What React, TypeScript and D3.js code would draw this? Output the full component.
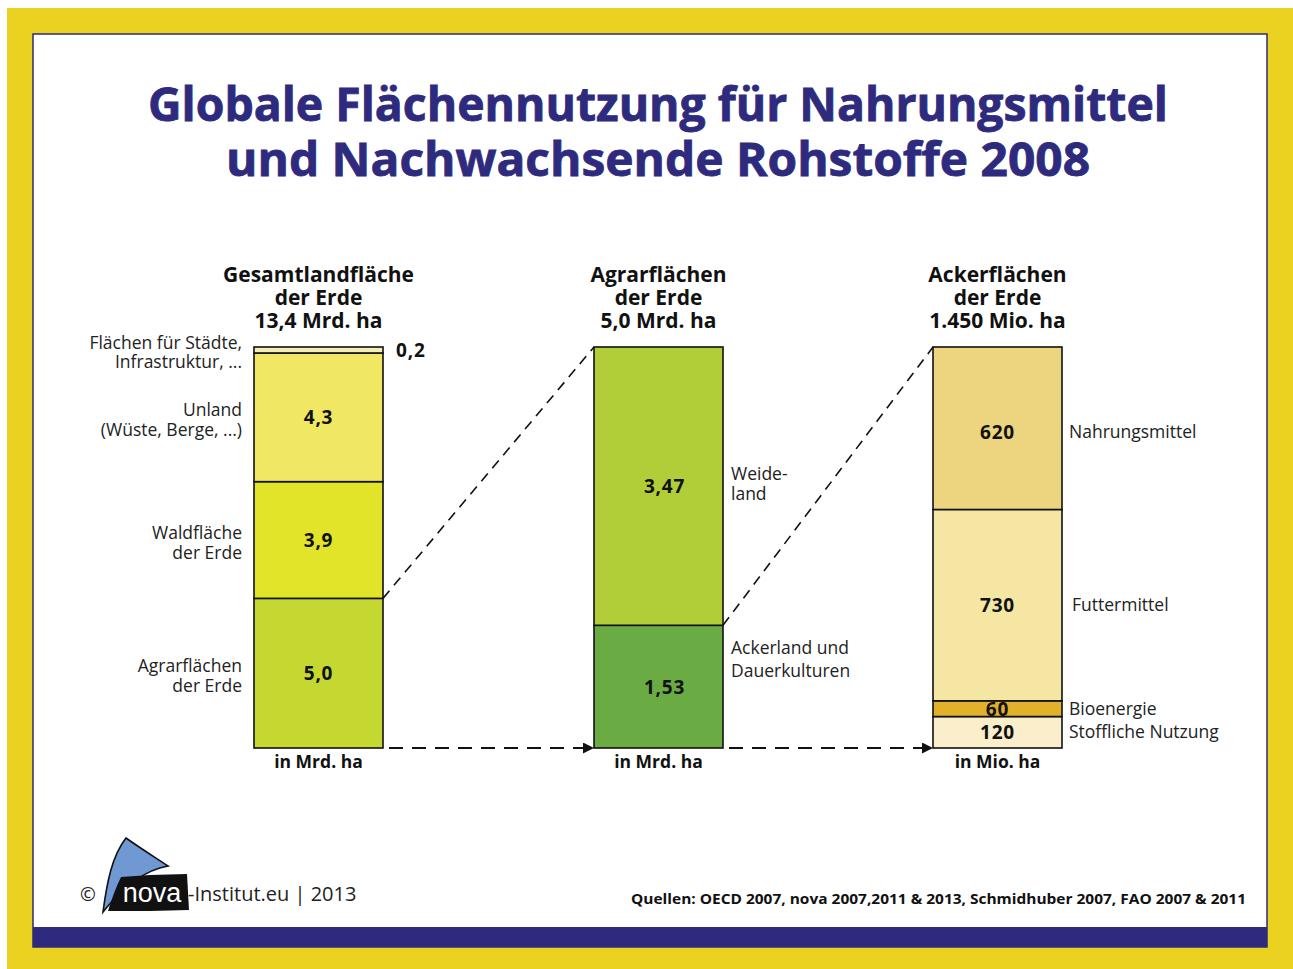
import React from "react";
import * as d3 from "d3";

const TITLE_LINES = ["Globale Flächennutzung für Nahrungsmittel", "und Nachwachsende Rohstoffe 2008"];

// Bar 1: Gesamtlandfläche (bottom -> top)
const land_labels = [["Agrarflächen", "der Erde"], ["Waldfläche", "der Erde"], ["Unland", "(Wüste, Berge, ...)"], ["Flächen für Städte,", "Infrastruktur, ..."]];
const land_values = [5.0, 3.9, 4.3, 0.2];
const land_valueText = ["5,0", "3,9", "4,3", "0,2"];
const land_colors = ["#c5d831", "#e1e428", "#f0e762", "#f4efb4"];

// Bar 2: Agrarflächen
const agrar_labels = [["Ackerland und", "Dauerkulturen"], ["Weide-", "land"]];
const agrar_values = [1.53, 3.47];
const agrar_valueText = ["1,53", "3,47"];
const agrar_colors = ["#6aab43", "#b1cd38"];

// Bar 3: Ackerflächen
const acker_labels = [["Stoffliche Nutzung"], ["Bioenergie"], ["Futtermittel"], ["Nahrungsmittel"]];
const acker_values = [120, 60, 730, 620];
const acker_valueText = ["120", "60", "730", "620"];
const acker_colors = ["#faefca", "#e2b12b", "#f5e6a3", "#edd580"];

const headers = [
  ["Gesamtlandfläche", "der Erde", "13,4 Mrd. ha"],
  ["Agrarflächen", "der Erde", "5,0 Mrd. ha"],
  ["Ackerflächen", "der Erde", "1.450 Mio. ha"],
];
const units = ["in Mrd. ha", "in Mrd. ha", "in Mio. ha"];
const SOURCES = "Quellen: OECD 2007, nova 2007,2011 & 2013, Schmidhuber 2007, FAO 2007 & 2011";

const NAVY = "#2e2a7e";
const YELLOW = "#ecd220";
const FONT = "'Open Sans', 'DejaVu Sans', sans-serif";

type Seg = { y0: number; y1: number; color: string; value: string; label: string[] };

function makeSegs(values: number[], colors: string[], texts: string[], labels: string[][], top: number, bottom: number): Seg[] {
  const total = d3.sum(values);
  const y = d3.scaleLinear().domain([0, total]).range([bottom, top]);
  const cum = Array.from(d3.cumsum(values));
  return values.map((v, i) => ({
    y0: y(cum[i] - v),
    y1: y(cum[i]),
    color: colors[i],
    value: texts[i],
    label: labels[i],
  }));
}

export default function App() {
  const W = 1293, H = 969;
  const top = 347, bottom = 748;
  const xBand = d3.scaleOrdinal<number, number>().domain([0, 1, 2]).range([254, 594, 933]);
  const bw = 129;

  const bars = [
    makeSegs(land_values, land_colors, land_valueText, land_labels, top, bottom),
    makeSegs(agrar_values, agrar_colors, agrar_valueText, agrar_labels, top, bottom),
    makeSegs(acker_values, acker_colors, acker_valueText, acker_labels, top, bottom),
  ];

  const x0 = xBand(0), x1 = xBand(1), x2 = xBand(2);
  const agrTop = bars[0][0].y1;
  const ackTop = bars[1][0].y1;
  const valStyle = { fontSize: 19, fontWeight: 700, fill: "#111", letterSpacing: 0.8 } as const;
  const lblSize = 17.5;

  return (
    <svg width={W} height={H} style={{ position: "absolute", left: 0, top: 0, background: "#fff" }} fontFamily={FONT}>
      <defs>
        <marker id="arr" viewBox="0 0 10 10" refX="10" refY="5" markerWidth="11" markerHeight="11" markerUnits="userSpaceOnUse" orient="auto">
          <path d="M0,0 L10,5 L0,10 z" fill="#111" />
        </marker>
      </defs>
      {/* frame */}
      <rect x={7} y={8} width={W - 7} height={H - 8} fill={YELLOW} />
      <rect x={33} y={34} width={1234} height={913} fill="#fff" stroke={NAVY} strokeWidth={1.5} />
      <rect x={33} y={927} width={1234} height={20} fill={NAVY} />

      {/* title */}
      <text x={658} y={121} textAnchor="middle" fontSize={47} fontWeight={700} fill={NAVY} stroke={NAVY} strokeWidth={0.8} textLength={1020} lengthAdjust="spacingAndGlyphs">{TITLE_LINES[0]}</text>
      <text x={658} y={176} textAnchor="middle" fontSize={47} fontWeight={700} fill={NAVY} stroke={NAVY} strokeWidth={0.8} textLength={864} lengthAdjust="spacingAndGlyphs">{TITLE_LINES[1]}</text>

      {/* headers */}
      {headers.map((h, i) => (
        <g key={"h" + i}>
          {h.map((t, j) => (
            <text key={j} x={xBand(i) + bw / 2} y={282 + j * 23} textAnchor="middle" fontSize={21} fontWeight={700} fill="#111">{t}</text>
          ))}
          <text x={xBand(i) + bw / 2} y={768} textAnchor="middle" fontSize={17.5} fontWeight={700} fill="#111">{units[i]}</text>
        </g>
      ))}

      {/* dashed connectors */}
      <line x1={x0 + bw} y1={agrTop} x2={x1} y2={top} stroke="#111" strokeWidth={1.6} strokeDasharray="10,7" />
      <line x1={x1 + bw} y1={ackTop} x2={x2} y2={top} stroke="#111" strokeWidth={1.6} strokeDasharray="10,7" />
      <line x1={x0 + bw + 6} y1={bottom} x2={x1} y2={bottom} stroke="#111" strokeWidth={1.8} strokeDasharray="14,9" markerEnd="url(#arr)" />
      <line x1={x1 + bw + 6} y1={bottom} x2={x2} y2={bottom} stroke="#111" strokeWidth={1.8} strokeDasharray="14,9" markerEnd="url(#arr)" />

      {/* bars */}
      {bars.map((segs, bi) => (
        <g key={"b" + bi}>
          {segs.map((s, si) => (
            <rect key={si} x={xBand(bi)} y={s.y1} width={bw} height={s.y0 - s.y1} fill={s.color} stroke="#111" strokeWidth={1.6} />
          ))}
        </g>
      ))}

      {/* bar 1 labels */}
      {bars[0].map((s, si) => {
        const c = (s.y0 + s.y1) / 2;
        const isSmall = si === 3;
        return (
          <g key={"l1" + si}>
            {isSmall ? (
              <text x={396} y={c + 7} {...valStyle}>{s.value}</text>
            ) : (
              <text x={x0 + bw / 2} y={c + 7} textAnchor="middle" {...valStyle}>{s.value}</text>
            )}
            {s.label.map((t, j) => (
              <text key={j} x={242} y={c - 1 + j * 19.5} textAnchor="end" fontSize={lblSize} fill="#222">{t}</text>
            ))}
          </g>
        );
      })}

      {/* bar 2 labels */}
      {bars[1].map((s, si) => {
        const c = (s.y0 + s.y1) / 2;
        const lblC = si === 0 ? c - 27 : c - 2;
        const gap = si === 0 ? 23 : 19.5;
        return (
          <g key={"l2" + si}>
            <text x={x1 + bw / 2 + 6} y={c + 7} textAnchor="middle" {...valStyle}>{s.value}</text>
            {s.label.map((t, j) => (
              <text key={j} x={731} y={lblC - gap / 2 + 6 + j * gap} fontSize={lblSize} fill="#222">{t}</text>
            ))}
          </g>
        );
      })}

      {/* bar 3 labels */}
      {bars[2].map((s, si) => {
        const c = (s.y0 + s.y1) / 2;
        const vc = si === 3 ? c + 4 : c;
        return (
          <g key={"l3" + si}>
            <text x={x2 + bw / 2} y={vc + 7} textAnchor="middle" {...valStyle}>{s.value}</text>
            <text x={si === 2 ? 1072 : 1069} y={vc + 6} fontSize={lblSize} fill="#222">{s.label[0]}</text>
          </g>
        );
      })}

      {/* logo */}
      <text x={80} y={901} fontSize={19} fill="#222">©</text>
      <path d="M103,912 C107,882 112,856 126,838 C140,848 156,858 168,866 C145,870 122,888 103,912 Z" fill="#7098d2" stroke="#111" strokeWidth={1.6} />
      <path d="M121,877 L150,875 L187,874 L189,910 L150,911 L108,911 C112,898 116,887 121,877 Z" fill="#111" />
      <text x={152} y={902} textAnchor="middle" fontSize={27} fill="#fff" fontFamily="'Liberation Sans', Arial, sans-serif">nova</text>
      <text x={188} y={901} fontSize={20} fill="#222">-Institut.eu | 2013</text>

      {/* sources */}
      <text x={1246} y={904} textAnchor="end" fontSize={14} fontWeight={700} fill="#111" textLength={615} lengthAdjust="spacingAndGlyphs">{SOURCES}</text>
    </svg>
  );
}
